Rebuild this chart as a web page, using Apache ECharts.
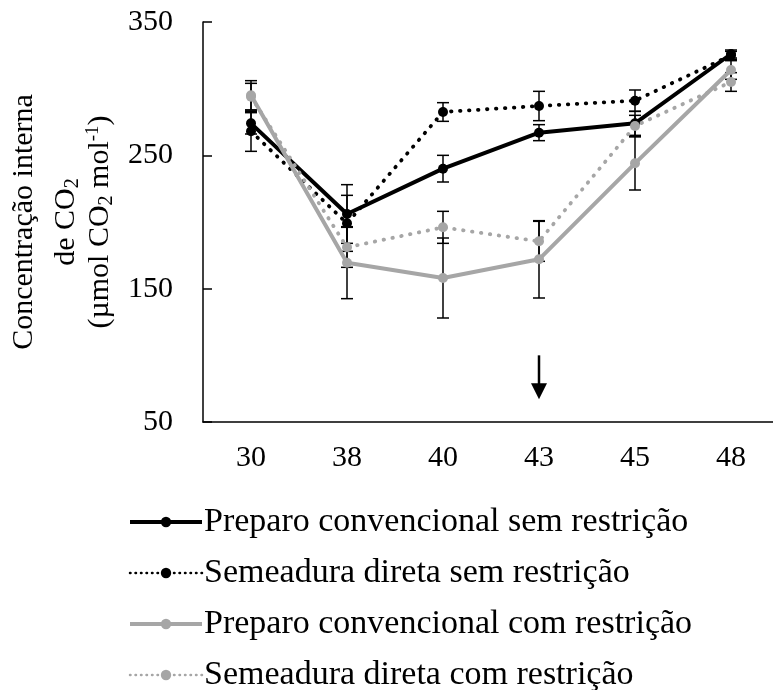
<!DOCTYPE html>
<html>
<head>
<meta charset="utf-8">
<script src="https://cdn.jsdelivr.net/npm/echarts@6/dist/echarts.min.js"></script>
<style>html,body{margin:0;padding:0;background:#fff}#c{width:773px;height:690px}</style>
</head>
<body>
<div id="c"></div>
<script>
const categories = ['30', '38', '40', '43', '45', '48'];
const yTicks = [50, 150, 250, 350];
const seriesNames = [
  'Preparo convencional sem restrição',
  'Semeadura direta sem restrição',
  'Preparo convencional com restrição',
  'Semeadura direta com restrição'
];
const pcSem = [274, 206, 240, 267, 274, 326];
const sdSem = [268, 199, 282.5, 287, 291, 325];
const pcCom = [295, 169.5, 158, 172, 244, 314];
const sdCom = [294, 181, 196, 185.5, 272, 305];
const pcSemErr = [8, 22, 10, 6, 9, 3];
const sdSemErr = [15, 21, 7, 11, 8, 3];
const pcComErr = [11, 27, 30, 29, 20, 7];
const sdComErr = [10, 15, 12, 15, 8, 7];
const arrowCategory = '43';
const arrowFrom = 100;
const arrowTo = 67;

const FONT = '"Liberation Serif", "Times New Roman", serif';
const BLACK = '#000000';
const GREY = '#a6a6a6';

function errData(means, errs) {
  return means.map((m, i) => [i, m - errs[i], m + errs[i]]);
}
function errSeries(means, errs) {
  return {
    type: 'custom',
    xAxisIndex: 0,
    yAxisIndex: 0,
    z: 1,
    silent: true,
    data: errData(means, errs),
    renderItem: function (params, api) {
      const lo = api.coord([api.value(0), api.value(1)]);
      const hi = api.coord([api.value(0), api.value(2)]);
      const hw = 6;
      const st = { stroke: BLACK, lineWidth: 1.5 };
      return {
        type: 'group',
        children: [
          { type: 'line', shape: { x1: lo[0], y1: lo[1], x2: hi[0], y2: hi[1] }, style: st },
          { type: 'line', shape: { x1: lo[0] - hw, y1: lo[1], x2: lo[0] + hw, y2: lo[1] }, style: st },
          { type: 'line', shape: { x1: hi[0] - hw, y1: hi[1], x2: hi[0] + hw, y2: hi[1] }, style: st }
        ]
      };
    }
  };
}
function lineSeries(name, data, color, dotted) {
  return {
    name: name,
    type: 'line',
    data: data,
    z: 3,
    symbol: 'circle',
    symbolSize: 10,
    itemStyle: { color: color },
    lineStyle: dotted
      ? { color: color, width: 3.8, type: [0.5, 8.5], cap: 'round' }
      : { color: color, width: 4 },
    emphasis: { disabled: true }
  };
}
function legendItem(name, color, dotted) {
  return {
    name: name,
    itemStyle: { color: color },
    lineStyle: dotted
      ? { color: color, width: 2.5, type: [0.5, 5], cap: 'round' }
      : { color: color, width: 4 }
  };
}

const chart = echarts.init(document.getElementById('c'));
chart.setOption({
  animation: false,
  textStyle: { fontFamily: FONT },
  grid: { left: 203, top: 22, width: 576, height: 400, outerBoundsMode: 'none', containLabel: false },
  legend: {
    orient: 'vertical',
    left: 128,
    top: 505,
    height: 400,
    padding: 0,
    itemWidth: 72,
    itemHeight: 13,
    itemGap: 17,
    data: [
      legendItem(seriesNames[0], BLACK, false),
      legendItem(seriesNames[1], BLACK, true),
      legendItem(seriesNames[2], GREY, false),
      legendItem(seriesNames[3], GREY, true)
    ],
    textStyle: { fontFamily: FONT, fontSize: 34, color: BLACK, lineHeight: 34, padding: [0, 0, 0, -3] }
  },
  xAxis: [
    {
      type: 'category',
      data: categories,
      boundaryGap: true,
      axisLine: { lineStyle: { color: BLACK, width: 1.5 } },
      axisTick: { alignWithLabel: true, length: 6, lineStyle: { color: BLACK, width: 1.5 } },
      axisLabel: { color: BLACK, fontFamily: FONT, fontSize: 30, margin: 21 }
    },
    {
      type: 'category',
      data: categories,
      position: 'bottom',
      boundaryGap: true,
      axisLine: { show: false },
      axisTick: { alignWithLabel: true, inside: true, length: 6, lineStyle: { color: BLACK, width: 1.5 } },
      axisLabel: { show: false }
    }
  ],
  yAxis: {
    type: 'value',
    min: yTicks[0],
    max: yTicks[yTicks.length - 1],
    interval: yTicks[1] - yTicks[0],
    splitLine: { show: false },
    axisLine: { show: true, lineStyle: { color: BLACK, width: 1.5 } },
    axisTick: { show: true, inside: true, length: 9, lineStyle: { color: BLACK, width: 1.5 } },
    axisLabel: { color: BLACK, fontFamily: FONT, fontSize: 30, margin: 30 },
    name: '{b|Concentração interna}\n{a|de CO}{s|2}\n{a|(µmol CO}{s|2}{a| mol}{p|-1}{a|)}',
    nameLocation: 'middle',
    nameGap: 81,
    nameTextStyle: {
      fontFamily: FONT,
      color: BLACK,
      lineHeight: 34,
      rich: {
        b: { fontFamily: FONT, fontSize: 30, color: BLACK, lineHeight: 50 },
        a: { fontFamily: FONT, fontSize: 30, color: BLACK, lineHeight: 34 },
        s: { fontFamily: FONT, fontSize: 20, color: BLACK, verticalAlign: 'bottom', lineHeight: 34 },
        p: { fontFamily: FONT, fontSize: 19, color: BLACK, verticalAlign: 'top', lineHeight: 34 }
      }
    }
  },
  series: [
    errSeries(pcSem, pcSemErr),
    errSeries(sdSem, sdSemErr),
    errSeries(pcCom, pcComErr),
    errSeries(sdCom, sdComErr),
    lineSeries(seriesNames[0], pcSem, BLACK, false),
    lineSeries(seriesNames[1], sdSem, BLACK, true),
    lineSeries(seriesNames[2], pcCom, GREY, false),
    lineSeries(seriesNames[3], sdCom, GREY, true),
    {
      type: 'custom',
      silent: true,
      z: 4,
      data: [[categories.indexOf(arrowCategory), arrowFrom, arrowTo]],
      renderItem: function (params, api) {
        const top = api.coord([api.value(0), api.value(1)]);
        const tip = api.coord([api.value(0), api.value(2)]);
        const hh = 16, hw = 8;
        return {
          type: 'group',
          children: [
            { type: 'line', shape: { x1: top[0], y1: top[1], x2: tip[0], y2: tip[1] - hh + 2 }, style: { stroke: BLACK, lineWidth: 2.5 } },
            { type: 'polygon', shape: { points: [[tip[0] - hw, tip[1] - hh], [tip[0] + hw, tip[1] - hh], [tip[0], tip[1]]] }, style: { fill: BLACK } }
          ]
        };
      }
    }
  ]
});
</script>
</body>
</html>
